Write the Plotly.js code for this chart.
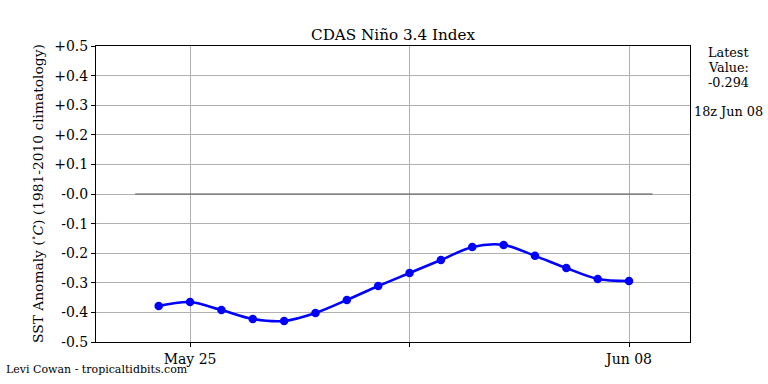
<!DOCTYPE html>
<html>
<head>
<meta charset="utf-8">
<script src="https://cdn.plot.ly/plotly-3.0.1.min.js"></script>
<style>html,body{margin:0;padding:0;background:#fff;}#chart{width:768px;height:384px;}</style>
</head>
<body>
<div id="chart"></div>
<script>
const dates = ['2025-05-24','2025-05-25','2025-05-26','2025-05-27','2025-05-28','2025-05-29','2025-05-30','2025-05-31',
  '2025-06-01','2025-06-02','2025-06-03','2025-06-04','2025-06-05','2025-06-06','2025-06-07','2025-06-08'];
const anomaly = [-0.378,-0.365,-0.392,-0.422,-0.429,-0.402,-0.358,-0.311,-0.267,-0.223,-0.179,-0.172,-0.209,-0.250,-0.287,-0.294];
const zeroLineX = ['2025-05-23 06:00','2025-06-08 18:00'];
const zeroLineY = [0,0];
const yTickVals = [-0.5,-0.4,-0.3,-0.2,-0.1,0,0.1,0.2,0.3,0.4,0.5];
const yTickText = ['-0.5','-0.4','-0.3','-0.2','-0.1','-0.0','+0.1','+0.2','+0.3','+0.4','+0.5'];
const xTickVals = ['2025-05-25','2025-06-01','2025-06-08'];
const xTickText = ['May 25',' ','Jun 08'];
const latestLines = ['Latest','Value:','-0.294'];
const latestTime = '18z Jun 08';

const font = 'DejaVu Serif, serif';
const traces = [
  {x: zeroLineX, y: zeroLineY, mode: 'lines', line: {color: '#555555', width: 1.2}, hoverinfo: 'skip', showlegend: false},
  {x: dates, y: anomaly, mode: 'lines+markers', line: {color: '#0000ff', width: 2.6, shape: 'spline', smoothing: 0.9},
   marker: {color: '#0000ff', size: 8.5}, showlegend: false}
];
const latestY = [0.9797, 0.929, 0.878];
const annotations = [
  {text: 'SST Anomaly (<sup>∘</sup><i>C</i>) (1981-2010 climatology)', textangle: -90, xref: 'paper', yref: 'paper',
   x: -0.0993, y: 0.5, xanchor: 'center', yanchor: 'middle', showarrow: false, font: {size: 13.8}},
  {text: latestTime, xref: 'paper', yref: 'paper', x: 1.065, y: 0.78, xanchor: 'center', yanchor: 'middle',
   showarrow: false, font: {size: 12.8}},
  {text: 'Levi Cowan - tropicaltidbits.com', xref: 'paper', yref: 'paper', x: -0.155, y: -0.0945, xanchor: 'left', yanchor: 'middle',
   showarrow: false, font: {size: 11}}
];
latestLines.forEach((t, i) => annotations.push({text: t, xref: 'paper', yref: 'paper', x: 1.065, y: latestY[i],
  xanchor: 'center', yanchor: 'middle', showarrow: false, font: {size: 12.8}}));

const layout = {
  width: 768, height: 384,
  margin: {l: 96, r: 78, t: 46, b: 42},
  paper_bgcolor: '#ffffff', plot_bgcolor: '#ffffff',
  font: {family: font, color: '#000', size: 14},
  title: {text: 'CDAS Niño 3.4 Index', font: {family: font, size: 15.2, color: '#000'}, x: 0.5, xanchor: 'center', xref: 'paper', y: 1, yref: 'paper', yanchor: 'bottom', pad: {b: 6}},
  xaxis: {type: 'date', range: ['2025-05-22 00:00','2025-06-09 22:40'], tickvals: xTickVals, ticktext: xTickText,
    showgrid: true, gridcolor: '#b0b0b0', gridwidth: 1, ticks: 'outside', ticklen: 4, tickcolor: '#000',
    showline: true, linecolor: '#000', linewidth: 1, mirror: true, zeroline: false, tickfont: {size: 14}},
  yaxis: {range: [-0.5, 0.5], tickvals: yTickVals, ticktext: yTickText,
    showgrid: true, gridcolor: '#b0b0b0', gridwidth: 1, ticks: 'outside', ticklen: 4, tickcolor: '#000',
    showline: true, linecolor: '#000', linewidth: 1, mirror: true, zeroline: false, tickfont: {size: 14}},
  annotations: annotations
};
Plotly.newPlot('chart', traces, layout, {displayModeBar: false, staticPlot: true});
</script>
</body>
</html>
